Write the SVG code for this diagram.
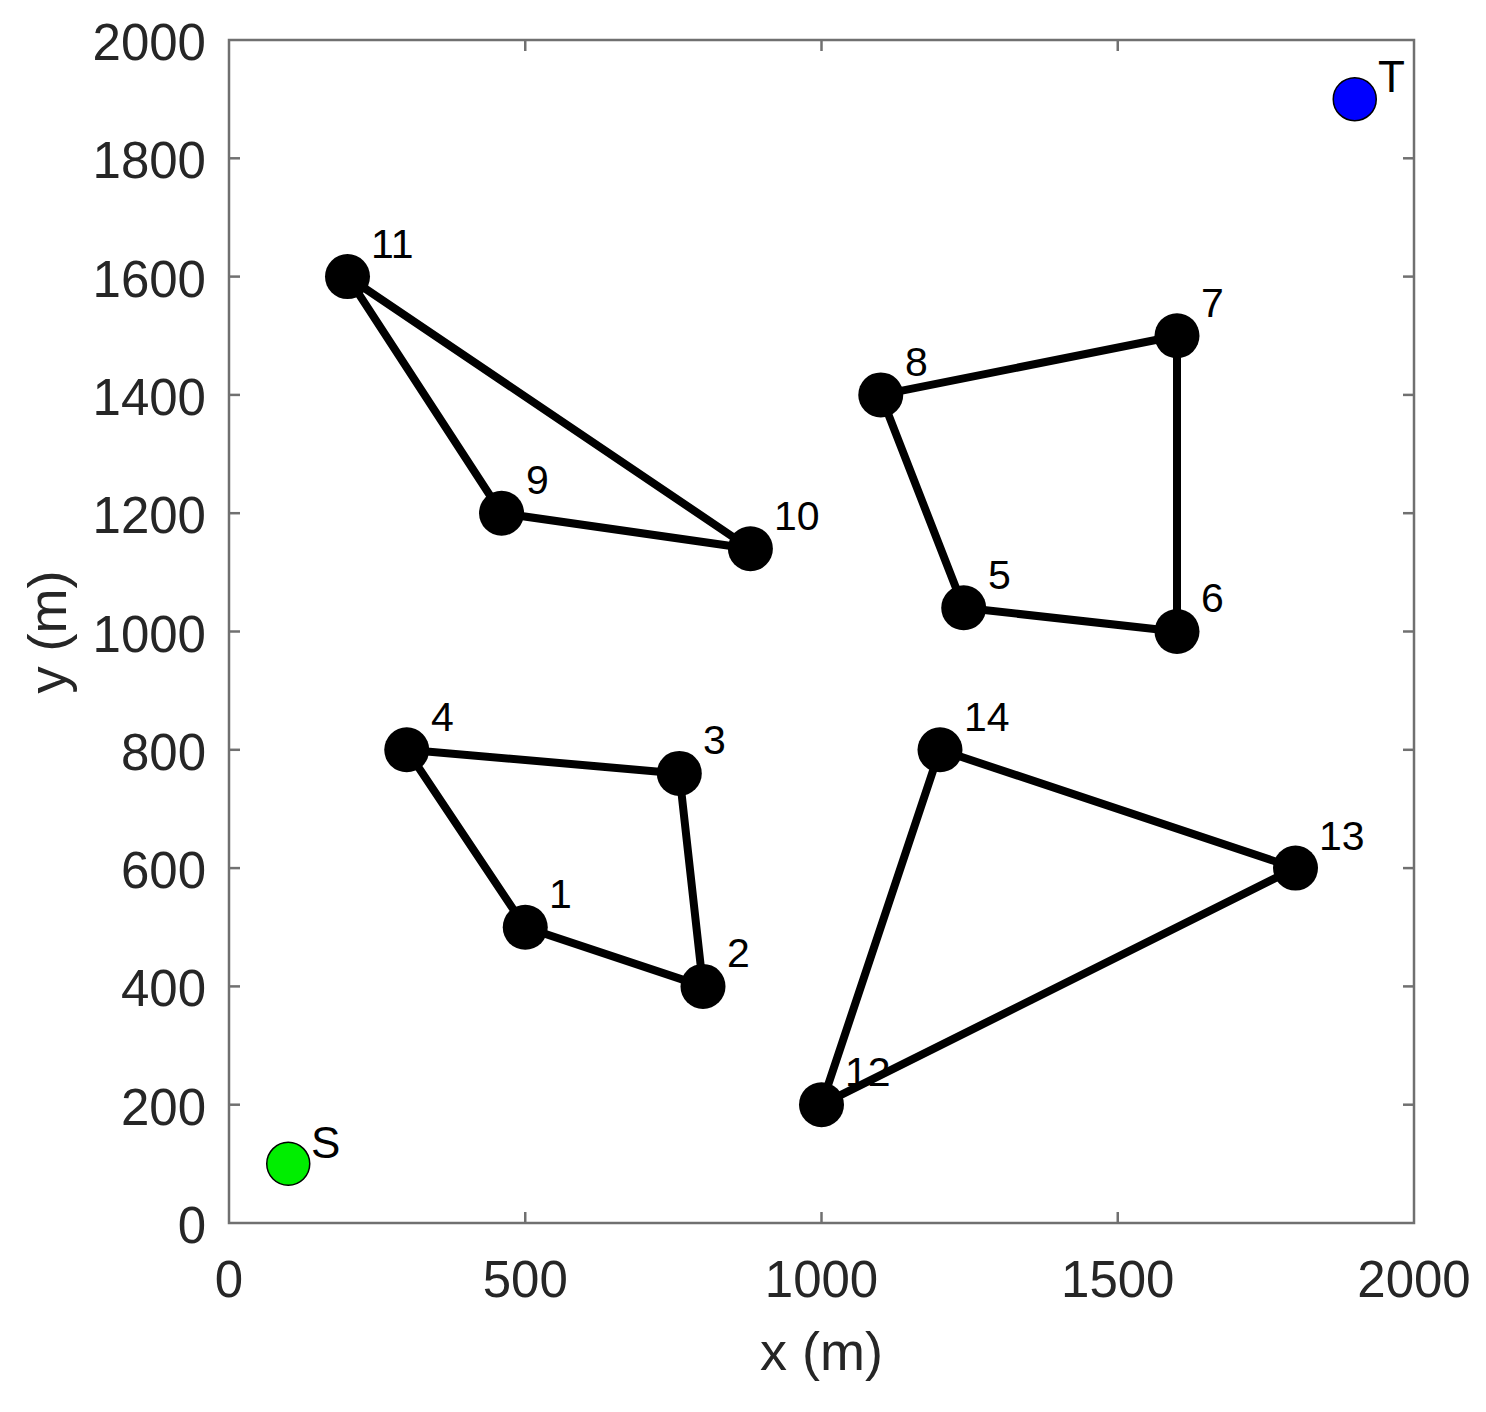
<svg xmlns="http://www.w3.org/2000/svg" width="1486" height="1412" viewBox="0 0 1486 1412">
<style>
.ax{fill:none;stroke:#707070;stroke-width:2.5}
.tk{stroke:#707070;stroke-width:2.5}
.tl{font-family:"Liberation Sans",Arial,sans-serif;font-size:51px;fill:#262626}
.al{font-family:"Liberation Sans",Arial,sans-serif;font-size:54px;fill:#262626;text-anchor:middle}
.edge{stroke:#000;stroke-width:8;stroke-linecap:round}
.nd{fill:#000}
.nl{font-family:"Liberation Sans",Arial,sans-serif;font-size:41px;fill:#000}
.st{font-family:"Liberation Sans",Arial,sans-serif;font-size:44px;fill:#000}
</style>
<rect width="1486" height="1412" fill="#fff"/>
<g id="axes">
<rect class="ax" x="229" y="40" width="1185" height="1183"/>
<g class="tk">
<line x1="525.25" y1="1223" x2="525.25" y2="1212"/><line x1="821.5" y1="1223" x2="821.5" y2="1212"/><line x1="1117.75" y1="1223" x2="1117.75" y2="1212"/>
<line x1="525.25" y1="40" x2="525.25" y2="51"/><line x1="821.5" y1="40" x2="821.5" y2="51"/><line x1="1117.75" y1="40" x2="1117.75" y2="51"/>
<line x1="229" y1="1104.7" x2="240" y2="1104.7"/><line x1="229" y1="986.4" x2="240" y2="986.4"/><line x1="229" y1="868.1" x2="240" y2="868.1"/><line x1="229" y1="749.8" x2="240" y2="749.8"/><line x1="229" y1="631.5" x2="240" y2="631.5"/><line x1="229" y1="513.2" x2="240" y2="513.2"/><line x1="229" y1="394.9" x2="240" y2="394.9"/><line x1="229" y1="276.6" x2="240" y2="276.6"/><line x1="229" y1="158.3" x2="240" y2="158.3"/>
<line x1="1414" y1="1104.7" x2="1403" y2="1104.7"/><line x1="1414" y1="986.4" x2="1403" y2="986.4"/><line x1="1414" y1="868.1" x2="1403" y2="868.1"/><line x1="1414" y1="749.8" x2="1403" y2="749.8"/><line x1="1414" y1="631.5" x2="1403" y2="631.5"/><line x1="1414" y1="513.2" x2="1403" y2="513.2"/><line x1="1414" y1="394.9" x2="1403" y2="394.9"/><line x1="1414" y1="276.6" x2="1403" y2="276.6"/><line x1="1414" y1="158.3" x2="1403" y2="158.3"/>
</g>
<g class="tl" text-anchor="end">
<text x="206" y="1243">0</text><text x="206" y="1124.7">200</text><text x="206" y="1006.4">400</text><text x="206" y="888.1">600</text><text x="206" y="769.8">800</text><text x="206" y="651.5">1000</text><text x="206" y="533.2">1200</text><text x="206" y="414.9">1400</text><text x="206" y="296.6">1600</text><text x="206" y="178.3">1800</text><text x="206" y="60">2000</text>
</g>
<g class="tl" text-anchor="middle">
<text x="229" y="1297">0</text><text x="525.25" y="1297">500</text><text x="821.5" y="1297">1000</text><text x="1117.75" y="1297">1500</text><text x="1414" y="1297">2000</text>
</g>
<text class="al" x="821.5" y="1370">x (m)</text>
<text class="al" x="0" y="0" transform="translate(66 632) rotate(-90)">y (m)</text>
</g>
<g id="connectors">
<line class="edge" x1="525.25" y1="927.25" x2="406.75" y2="749.8"/>
<line class="edge" x1="406.75" y1="749.8" x2="679.3" y2="773.4"/>
<line class="edge" x1="679.3" y1="773.4" x2="703" y2="986.4"/>
<line class="edge" x1="703" y1="986.4" x2="525.25" y2="927.25"/>
<line class="edge" x1="963.7" y1="607.8" x2="880.75" y2="394.9"/>
<line class="edge" x1="880.75" y1="394.9" x2="1177" y2="335.75"/>
<line class="edge" x1="1177" y1="335.75" x2="1177" y2="631.5"/>
<line class="edge" x1="1177" y1="631.5" x2="963.7" y2="607.8"/>
<line class="edge" x1="501.55" y1="513.2" x2="347.5" y2="276.6"/>
<line class="edge" x1="347.5" y1="276.6" x2="750.4" y2="548.7"/>
<line class="edge" x1="750.4" y1="548.7" x2="501.55" y2="513.2"/>
<line class="edge" x1="821.5" y1="1104.7" x2="940" y2="749.8"/>
<line class="edge" x1="940" y1="749.8" x2="1295.5" y2="868.1"/>
<line class="edge" x1="1295.5" y1="868.1" x2="821.5" y2="1104.7"/>
</g>
<g id="node-1"><circle class="nd" cx="525.25" cy="927.25" r="22.5"/><text class="nl" x="549" y="908">1</text></g>
<g id="node-2"><circle class="nd" cx="703" cy="986.4" r="22.5"/><text class="nl" x="727" y="967">2</text></g>
<g id="node-3"><circle class="nd" cx="679.3" cy="773.4" r="22.5"/><text class="nl" x="703" y="754">3</text></g>
<g id="node-4"><circle class="nd" cx="406.75" cy="749.8" r="22.5"/><text class="nl" x="431" y="731">4</text></g>
<g id="node-5"><circle class="nd" cx="963.7" cy="607.8" r="22.5"/><text class="nl" x="988" y="589">5</text></g>
<g id="node-6"><circle class="nd" cx="1177" cy="631.5" r="22.5"/><text class="nl" x="1201" y="612">6</text></g>
<g id="node-7"><circle class="nd" cx="1177" cy="335.75" r="22.5"/><text class="nl" x="1201" y="317">7</text></g>
<g id="node-8"><circle class="nd" cx="880.75" cy="394.9" r="22.5"/><text class="nl" x="905" y="376">8</text></g>
<g id="node-9"><circle class="nd" cx="501.55" cy="513.2" r="22.5"/><text class="nl" x="526" y="494">9</text></g>
<g id="node-10"><circle class="nd" cx="750.4" cy="548.7" r="22.5"/><text class="nl" x="774" y="530">10</text></g>
<g id="node-11"><circle class="nd" cx="347.5" cy="276.6" r="22.5"/><text class="nl" x="371" y="258">11</text></g>
<g id="node-12"><circle class="nd" cx="821.5" cy="1104.7" r="22.5"/><text class="nl" x="845" y="1086">12</text></g>
<g id="node-13"><circle class="nd" cx="1295.5" cy="868.1" r="22.5"/><text class="nl" x="1319" y="850">13</text></g>
<g id="node-14"><circle class="nd" cx="940" cy="749.8" r="22.5"/><text class="nl" x="964" y="731">14</text></g>
<g id="node-S"><circle cx="288.25" cy="1163.85" r="21.5" fill="#00ee00" stroke="#000" stroke-width="1.5"/><text class="st" x="311" y="1158">S</text></g>
<g id="node-T"><circle cx="1354.75" cy="99.15" r="21.5" fill="#0000ff" stroke="#000" stroke-width="1.5"/><text class="st" x="1378" y="92">T</text></g>
</svg>
